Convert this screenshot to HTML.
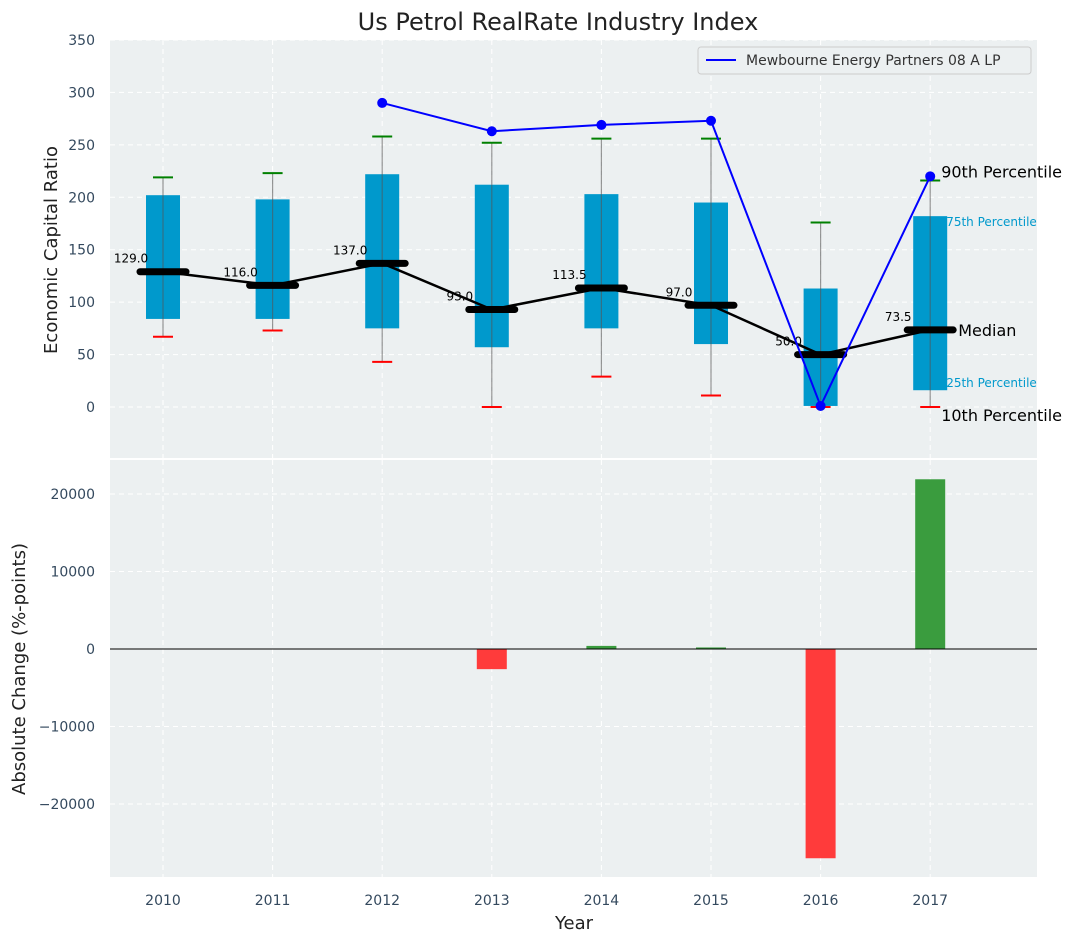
<!DOCTYPE html>
<html><head><meta charset="utf-8"><style>
body{margin:0;background:#fff;font-family:"Liberation Sans","DejaVu Sans",sans-serif}
svg text{font-family:"DejaVu Sans","Liberation Sans",sans-serif}
</style></head><body>
<svg id="c" width="1076" height="942" xmlns="http://www.w3.org/2000/svg"></svg>
<script>
const years=["2010","2011","2012","2013","2014","2015","2016","2017"];
const q1=[84,84,75,57,75,60,1,16];
const q3=[202,198,222,212,203,195,113,182];
const lowW=[67,73,43,0,29,11,0,0];
const highW=[219,223,258,252,256,256,176,216];
const medians=[129,116,137,93,113.5,97,50,73.5];
const companyIdx=[2,3,4,5,6,7];
const companyVals=[290,263,269,273,1,220];
const changeVals=[0,0,0,-2600,400,200,-27000,21900];
const topTicks=[0,50,100,150,200,250,300,350];
const botTicks=[-20000,-10000,0,10000,20000];

const svg=document.getElementById('c');
const NS='http://www.w3.org/2000/svg';
function mk(tag,attrs,name,parent){const e=document.createElementNS(NS,tag);for(const k in attrs)e.setAttribute(k,attrs[k]);


(parent||svg).appendChild(e);return e;}
function txt(s,attrs,name){const e=mk('text',attrs,name);e.textContent=s;return e;}
const L=110,R=1037,T1=40,B1=458,T2=460,B2=877;
const xs=i=>163+i*109.6;
const y1=v=>407-v*(407-40)/350;
const y2=v=>649-v*(155/20000);
const tickCol='#34495e';
mk('rect',{x:L,y:T1,width:R-L,height:B1-T1,fill:'#ecf0f1'},'top-plot-area');
mk('rect',{x:L,y:T2,width:R-L,height:B2-T2,fill:'#ecf0f1'},'bottom-plot-area');
years.forEach((y,i)=>{
mk('line',{x1:xs(i),x2:xs(i),y1:T1,y2:B1,stroke:'#fff','stroke-dasharray':'5,4','stroke-width':1},'x-grid-top');
mk('line',{x1:xs(i),x2:xs(i),y1:T2,y2:B2,stroke:'#fff','stroke-dasharray':'5,4','stroke-width':1},'x-grid-bottom');
txt(y,{x:xs(i),y:905,'font-size':14,fill:tickCol,'text-anchor':'middle'},'x-tick-label');
});
topTicks.forEach(t=>{
mk('line',{x1:L,x2:R,y1:y1(t),y2:y1(t),stroke:'#fff','stroke-dasharray':'5,4'},'y-grid-top');
txt(String(t),{x:95,y:y1(t)+5,'font-size':14,fill:tickCol,'text-anchor':'end'},'y-tick-label-top');
});
botTicks.forEach(t=>{
mk('line',{x1:L,x2:R,y1:y2(t),y2:y2(t),stroke:'#fff','stroke-dasharray':'5,4'},'y-grid-bottom');
txt(t<0?'\u2212'+Math.abs(t):String(t),{x:95,y:y2(t)+5,'font-size':14,fill:tickCol,'text-anchor':'end'},'y-tick-label-bottom');
});
years.forEach((y,i)=>{
const x=xs(i);
mk('rect',{x:x-17,y:y1(q3[i]),width:34,height:y1(q1[i])-y1(q3[i]),fill:'#0099cc'},'box-'+y);
mk('line',{x1:x,x2:x,y1:y1(lowW[i]),y2:y1(highW[i]),stroke:'#555','stroke-opacity':0.6,'stroke-width':1.2},'whisker-'+y);
mk('line',{x1:x-10,x2:x+10,y1:y1(highW[i]),y2:y1(highW[i]),stroke:'green','stroke-width':2},'cap-high-'+y);
mk('line',{x1:x-10,x2:x+10,y1:y1(lowW[i]),y2:y1(lowW[i]),stroke:'red','stroke-width':2},'cap-low-'+y);
});
mk('polyline',{points:medians.map((m,i)=>xs(i)+','+y1(m)).join(' '),fill:'none',stroke:'#000','stroke-width':2.5},'median-line');
medians.forEach((m,i)=>{
const x=xs(i);
mk('line',{x1:x-23,x2:x+23,y1:y1(m),y2:y1(m),stroke:'#000','stroke-width':7,'stroke-linecap':'round'},'median-marker');
txt(m.toFixed(1),{x:x-32,y:y1(m)-9,'font-size':12,fill:'#000','text-anchor':'middle'},'median-label');
});
mk('polyline',{points:companyVals.map((v,k)=>xs(companyIdx[k])+','+y1(v)).join(' '),fill:'none',stroke:'blue','stroke-width':2},'company-line');
companyVals.forEach((v,k)=>mk('circle',{cx:xs(companyIdx[k]),cy:y1(v),r:5,fill:'blue'},'company-point'));
const xe=xs(7);
txt('90th Percentile',{x:xe+11,y:y1(highW[7])-3,'font-size':16,fill:'#000'},'p90-annotation');
txt('75th Percentile',{x:xe+16,y:y1(q3[7])+10,'font-size':12,fill:'#0099cc'},'p75-annotation');
txt('Median',{x:xe+28,y:y1(medians[7])+6,'font-size':16,fill:'#000'},'median-annotation');
txt('25th Percentile',{x:xe+16,y:y1(q1[7])-3,'font-size':12,fill:'#0099cc'},'p25-annotation');
txt('10th Percentile',{x:xe+11,y:y1(lowW[7])+14,'font-size':16,fill:'#000'},'p10-annotation');
const lg=mk('g',{},'legend');
mk('rect',{x:698,y:47,width:333,height:27,fill:'#ecf0f1',stroke:'#ccc',rx:3},'legend-box',lg);
mk('line',{x1:706,x2:736,y1:60,y2:60,stroke:'blue','stroke-width':2},'legend-swatch',lg);
const lt=mk('text',{x:746,y:65,'font-size':14,fill:'#333'},'legend-label',lg);lt.textContent='Mewbourne Energy Partners 08 A LP';
changeVals.forEach((v,i)=>{if(v===0)return;
const ya=y2(Math.max(v,0)),yb=y2(Math.min(v,0));
mk('rect',{x:xs(i)-15,y:ya,width:30,height:Math.max(yb-ya,2),fill:v>0?'#3a9c3e':'#ff3b3b'},'change-bar-'+years[i]);
});
mk('line',{x1:L,x2:R,y1:y2(0),y2:y2(0),stroke:'#000','stroke-width':1},'zero-line');
txt('Us Petrol RealRate Industry Index',{x:558,y:30,'font-size':24,fill:'#222','text-anchor':'middle'},'chart-title');
txt('Year',{x:574,y:929,'font-size':18,fill:'#222','text-anchor':'middle'},'x-axis-title');
txt('Economic Capital Ratio',{x:57,y:250,'font-size':18,fill:'#222','text-anchor':'middle',transform:'rotate(-90 57 250)'},'y-axis-title-top');
txt('Absolute Change (%-points)',{x:25,y:669,'font-size':18,fill:'#222','text-anchor':'middle',transform:'rotate(-90 25 669)'},'y-axis-title-bottom');
</script>
</body></html>
